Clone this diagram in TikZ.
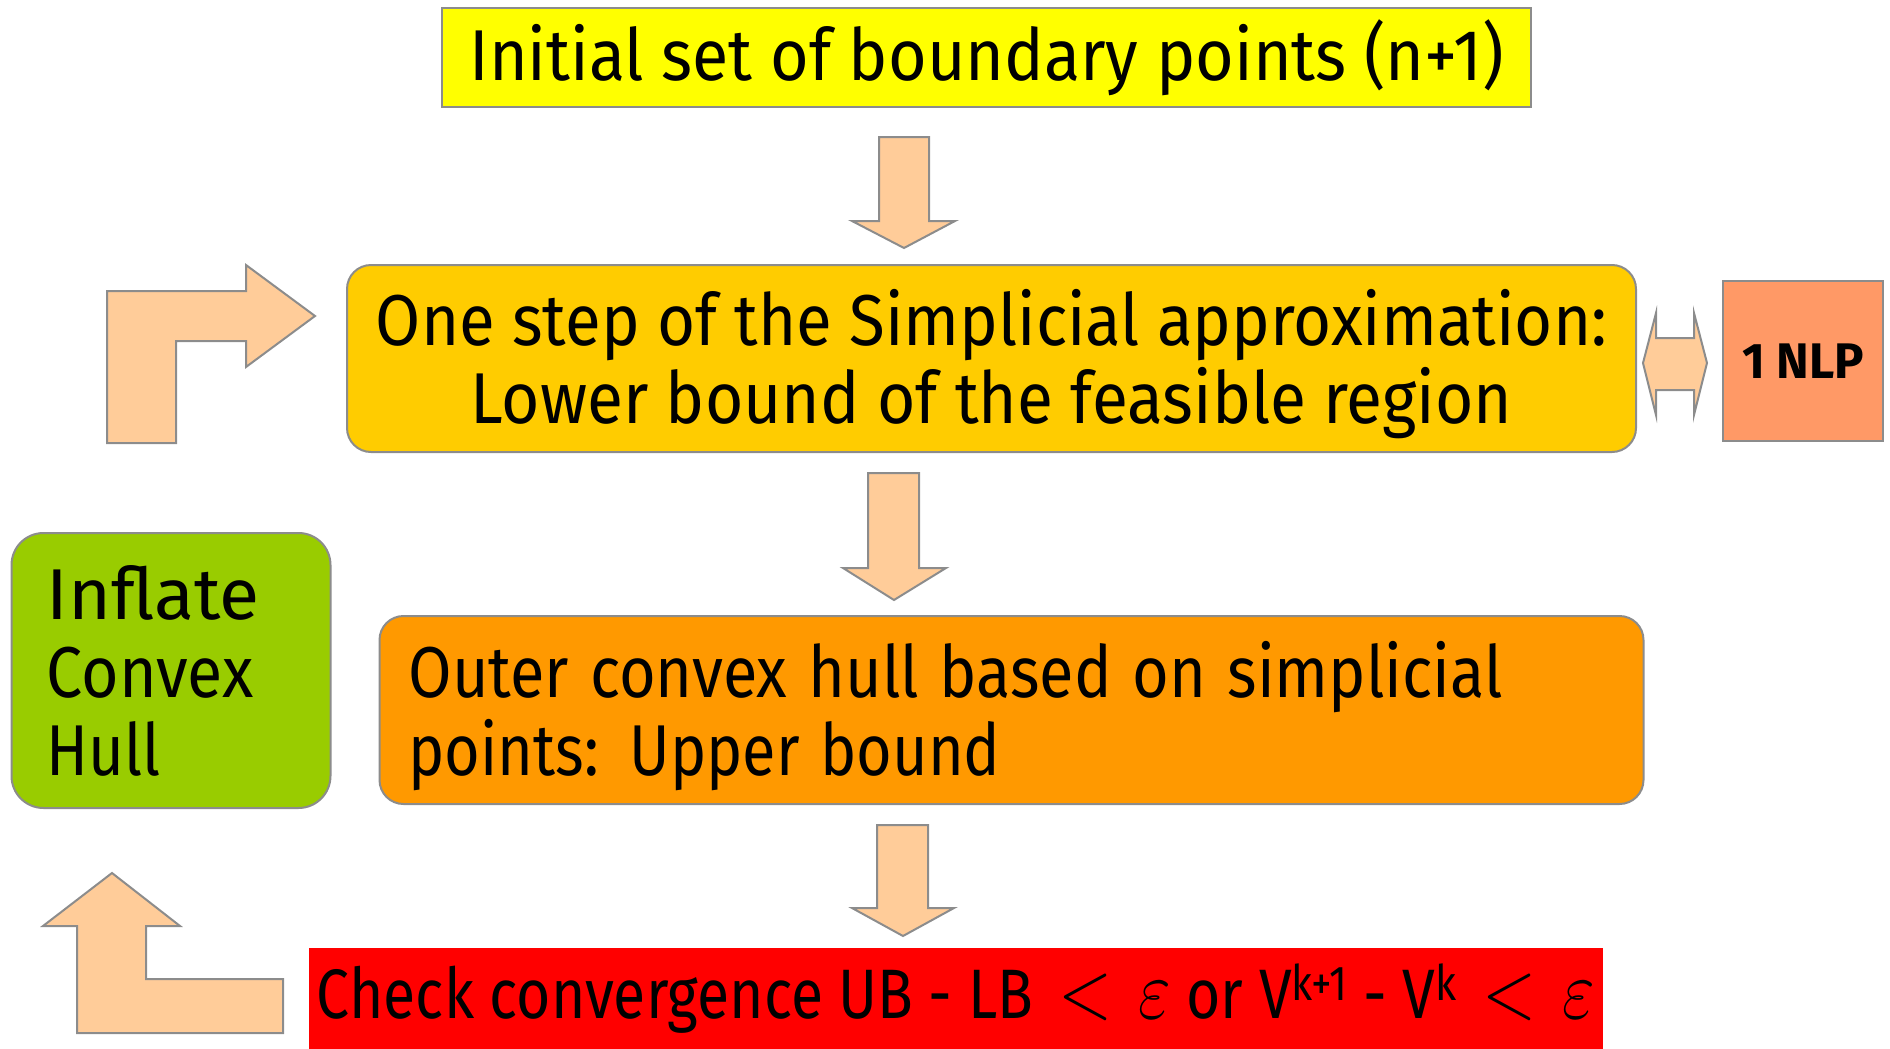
\documentclass[tikz,border=0pt]{standalone}
\usepackage{fontspec}
\setmainfont{Fira Sans}
\definecolor{boxgray}{HTML}{8C8C8C}
\definecolor{arrowfill}{HTML}{FFCC99}
\definecolor{yel}{HTML}{FFFF00}
\definecolor{gold}{HTML}{FFCC00}
\definecolor{orng}{HTML}{FF9900}
\definecolor{grn}{HTML}{99CC00}
\definecolor{salmon}{HTML}{FF9966}
\definecolor{redbox}{HTML}{FF0000}
\newcommand{\fitline}[2]{\resizebox{#1}{\height}{#2}}
\newcommand{\largemath}[1]{\scalebox{1.7}{$#1$}}
\begin{document}
\begin{tikzpicture}[x=0.5pt,y=-0.5pt,
  box/.style={draw=boxgray, line width=1pt, inner sep=0pt},
  blockarrow/.style={draw=boxgray, fill=arrowfill, line width=1pt, line join=miter},
  txt/.style={font=\fontsize{36}{39}\selectfont, inner sep=0pt}]
\useasboundingbox (0,0) rectangle (1890,1049);

% boxes
\node[box, fill=yel, minimum width=544.5pt, minimum height=49.5pt, txt] (init) at (986.5,57.5)
  {\fitline{517pt}{Initial set of boundary points (n+1)}};

\node[box, rounded corners=12pt, fill=gold, minimum width=644.5pt, minimum height=93.5pt] (step1) at (991.5,358.5) {};
\node[txt, align=center] (step1text) at ([yshift=-3pt]step1.center)
  {\fitline{615.5pt}{One step of the Simplicial approximation:}\\ \fitline{521pt}{Lower bound of the feasible region}};

\node[box, fill=salmon, minimum width=80pt, minimum height=80pt, font=\bfseries\fontsize{25}{30}\selectfont] (nlp) at (1803,361)
  {\fitline{61pt}{1 NLP}};

\node[box, rounded corners=16pt, fill=grn, minimum width=159pt, minimum height=137.5pt, txt, align=left, text width=124.5pt, inner xsep=17.5pt] (inflate) at (171,670.5)
  {\fitline{106.5pt}{Inflate}\\ \fitline{103.5pt}{Convex}\\ \fitline{57pt}{Hull}};

\node[box, rounded corners=12pt, fill=orng, minimum width=632pt, minimum height=94pt] (hull) at (1011.5,710) {};
\node[txt, align=left, text width=603pt] (hulltext) at ([yshift=-3pt]hull.center)
  {\fitline{547pt}{Outer convex hull based on simplicial}\\ \fitline{296pt}{points: Upper bound}};

\node[fill=redbox, inner sep=0pt, minimum width=647pt, minimum height=50.5pt, font=\fontsize{35}{40}\selectfont] (check) at (956,998.5)
  {\fitline{639pt}{Check convergence UB - LB \,\largemath{<}\, \largemath{\varepsilon} or V\textsuperscript{k+1} - V\textsuperscript{k} \,\largemath{<}\, \largemath{\varepsilon}}};

% down block arrows
\draw[blockarrow] (879,137) -- (929,137) -- (929,221) -- (955,221) -- (904,248) -- (852,221) -- (879,221) -- cycle;
\draw[blockarrow] (868,473) -- (919,473) -- (919,568) -- (946,568) -- (894,600) -- (843,568) -- (868,568) -- cycle;
\draw[blockarrow] (877,825) -- (928,825) -- (928,908) -- (954,908) -- (903,936) -- (852,908) -- (877,908) -- cycle;

% bent arrow into step box
\draw[blockarrow] (107,443) -- (107,291) -- (246,291) -- (246,265) -- (315,316) -- (246,367) -- (246,341) -- (176,341) -- (176,443) -- cycle;

% bent arrow up from check
\draw[blockarrow] (112,873) -- (180,926) -- (146,926) -- (146,979) -- (283,979) -- (283,1033) -- (77,1033) -- (77,926) -- (43,926) -- cycle;

% double arrow step <-> NLP
\draw[blockarrow] (1643,363) -- (1656,313) -- (1656,338) -- (1694,338) -- (1694,313) -- (1707,363) -- (1694,415) -- (1694,390) -- (1656,390) -- (1656,415) -- cycle;
\end{tikzpicture}
\end{document}
